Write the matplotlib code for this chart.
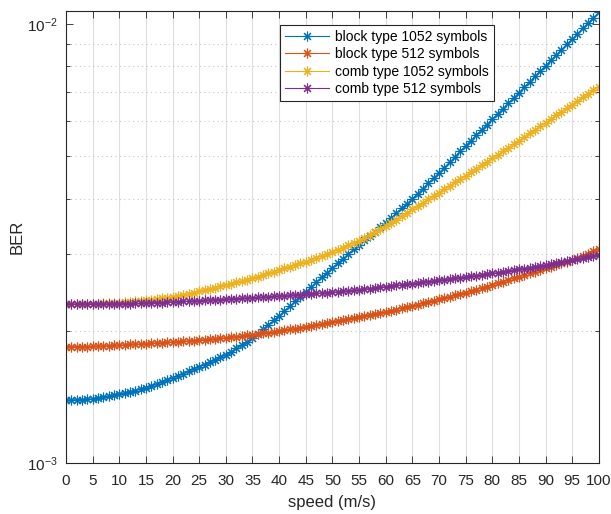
#!/usr/bin/env python
# -*- coding:utf-8 -*-
import numpy as np
import matplotlib
matplotlib.use('Agg')
import matplotlib.pyplot as plt
from matplotlib.ticker import LogLocator, NullFormatter, MultipleLocator

plt.rcParams['font.family'] = ['Liberation Sans', 'DejaVu Sans']

speed = list(range(0, 101))

# BER values (x 1e-3), one per m/s
block_1052 = [
    1.391, 1.392, 1.393, 1.395, 1.397, 1.400, 1.405, 1.411, 1.418, 1.426,
    1.436, 1.444, 1.453, 1.462, 1.472, 1.482, 1.496, 1.511, 1.527, 1.544,
    1.562, 1.580, 1.598, 1.617, 1.636, 1.655, 1.675, 1.696, 1.717, 1.739,
    1.762, 1.792, 1.823, 1.856, 1.890, 1.926, 1.970, 2.015, 2.063, 2.112,
    2.162, 2.218, 2.275, 2.334, 2.393, 2.452, 2.516, 2.581, 2.647, 2.714,
    2.782, 2.851, 2.921, 2.993, 3.065, 3.138, 3.212, 3.287, 3.364, 3.442,
    3.522, 3.613, 3.706, 3.801, 3.897, 3.995, 4.105, 4.218, 4.334, 4.454,
    4.577, 4.707, 4.841, 4.979, 5.124, 5.274, 5.425, 5.580, 5.738, 5.898,
    6.060, 6.234, 6.411, 6.592, 6.776, 6.964, 7.168, 7.377, 7.591, 7.805,
    8.024, 8.259, 8.498, 8.740, 8.980, 9.220, 9.495, 9.770, 10.05, 10.33,
    10.62]
block_512 = [
    1.840, 1.840, 1.841, 1.841, 1.842, 1.843, 1.845, 1.847, 1.850, 1.853,
    1.856, 1.859, 1.862, 1.865, 1.868, 1.871, 1.874, 1.877, 1.880, 1.883,
    1.886, 1.889, 1.893, 1.897, 1.901, 1.905, 1.909, 1.914, 1.919, 1.924,
    1.929, 1.935, 1.941, 1.947, 1.953, 1.959, 1.966, 1.973, 1.980, 1.988,
    1.996, 2.005, 2.014, 2.023, 2.033, 2.043, 2.053, 2.064, 2.075, 2.086,
    2.098, 2.109, 2.120, 2.131, 2.143, 2.154, 2.165, 2.176, 2.187, 2.198,
    2.209, 2.222, 2.236, 2.250, 2.264, 2.279, 2.295, 2.311, 2.327, 2.344,
    2.360, 2.376, 2.393, 2.410, 2.427, 2.445, 2.464, 2.483, 2.503, 2.523,
    2.544, 2.566, 2.588, 2.611, 2.634, 2.657, 2.680, 2.704, 2.728, 2.752,
    2.777, 2.801, 2.826, 2.850, 2.875, 2.900, 2.932, 2.965, 2.998, 3.032,
    3.068]
comb_1052 = [
    2.302, 2.302, 2.302, 2.303, 2.304, 2.305, 2.307, 2.310, 2.313, 2.316,
    2.320, 2.325, 2.331, 2.337, 2.343, 2.350, 2.357, 2.364, 2.372, 2.381,
    2.390, 2.402, 2.415, 2.429, 2.444, 2.460, 2.476, 2.493, 2.510, 2.527,
    2.545, 2.562, 2.580, 2.598, 2.616, 2.635, 2.657, 2.679, 2.702, 2.726,
    2.750, 2.774, 2.798, 2.823, 2.848, 2.874, 2.902, 2.930, 2.959, 2.989,
    3.020, 3.056, 3.093, 3.131, 3.170, 3.210, 3.258, 3.307, 3.357, 3.408,
    3.460, 3.522, 3.585, 3.649, 3.714, 3.780, 3.848, 3.917, 3.987, 4.058,
    4.130, 4.204, 4.279, 4.355, 4.432, 4.510, 4.594, 4.679, 4.765, 4.852,
    4.940, 5.033, 5.127, 5.222, 5.320, 5.420, 5.525, 5.632, 5.740, 5.850,
    5.960, 6.075, 6.192, 6.310, 6.430, 6.550, 6.676, 6.804, 6.934, 7.066,
    7.200]
comb_512 = [
    2.302, 2.302, 2.302, 2.303, 2.303, 2.303, 2.304, 2.304, 2.305, 2.305,
    2.306, 2.307, 2.308, 2.309, 2.310, 2.312, 2.314, 2.317, 2.320, 2.323,
    2.326, 2.329, 2.333, 2.336, 2.340, 2.343, 2.347, 2.350, 2.354, 2.357,
    2.361, 2.364, 2.368, 2.371, 2.375, 2.378, 2.382, 2.387, 2.391, 2.396,
    2.400, 2.405, 2.409, 2.414, 2.418, 2.423, 2.428, 2.433, 2.438, 2.443,
    2.448, 2.454, 2.460, 2.466, 2.473, 2.480, 2.488, 2.496, 2.504, 2.512,
    2.520, 2.529, 2.537, 2.546, 2.554, 2.563, 2.572, 2.581, 2.590, 2.599,
    2.608, 2.617, 2.626, 2.634, 2.643, 2.652, 2.662, 2.672, 2.682, 2.692,
    2.703, 2.714, 2.725, 2.737, 2.748, 2.760, 2.772, 2.785, 2.798, 2.811,
    2.824, 2.838, 2.853, 2.868, 2.883, 2.898, 2.914, 2.929, 2.945, 2.961,
    2.977]

labels = ['block type 1052 symbols', 'block type 512 symbols',
          'comb type 1052 symbols', 'comb type 512 symbols']
colors = ['#0072BD', '#D95319', '#EDB120', '#7E2F8E']


def main():
    fig = plt.figure(figsize=(6.11, 5.14), dpi=100)
    ax = fig.add_axes([0.108, 0.0992, 0.872, 0.8794])

    series = [block_1052, block_512, comb_1052, comb_512]
    for vals, lab, col in zip(series, labels, colors):
        y = np.array(vals) * 1e-3
        ax.plot(speed, y, color=col, lw=0.8, marker=(8, 2, 0),
                markersize=7, markeredgewidth=0.8, label=lab)

    ax.set_yscale('log')
    ax.set_xlim(0, 100)
    ax.set_ylim(1e-3, 1.07e-2)
    ax.xaxis.set_major_locator(MultipleLocator(5))
    ax.yaxis.set_major_locator(LogLocator(base=10))
    ax.yaxis.set_minor_locator(LogLocator(base=10, subs=np.arange(2, 10)))
    ax.yaxis.set_minor_formatter(NullFormatter())

    edge = '#262626'
    for sp in ax.spines.values():
        sp.set_color(edge)
        sp.set_linewidth(0.8)
    ax.tick_params(which='both', direction='in', top=True, right=True,
                   colors=edge, labelcolor='#262626', labelsize=11)
    ax.tick_params(which='major', length=5, width=0.6)
    ax.tick_params(which='minor', length=3, width=0.6)
    ax.tick_params(axis='x', which='major', pad=8)
    ax.tick_params(axis='y', which='major', pad=6)

    ax.grid(True, which='major', axis='x', color='#dedede', lw=0.8)
    ax.grid(True, which='minor', axis='y', color='#c8c8c8', lw=0.8,
            linestyle=(0, (1, 3)))
    ax.set_axisbelow(True)

    ax.set_xlabel('speed (m/s)', fontsize=12, color='#262626', labelpad=5)
    ax.set_ylabel('BER', fontsize=12, color='#262626', labelpad=2)

    leg = ax.legend(loc='upper left', bbox_to_anchor=(0.389, 0.985),
                    fontsize=10, handlelength=3.2, borderpad=0.35,
                    labelspacing=0.25, handletextpad=0.4, fancybox=False,
                    framealpha=1)
    leg.get_frame().set_edgecolor('#262626')
    leg.get_frame().set_linewidth(0.8)

    fig.savefig('out.png', dpi=100)


if __name__ == '__main__':
    main()
